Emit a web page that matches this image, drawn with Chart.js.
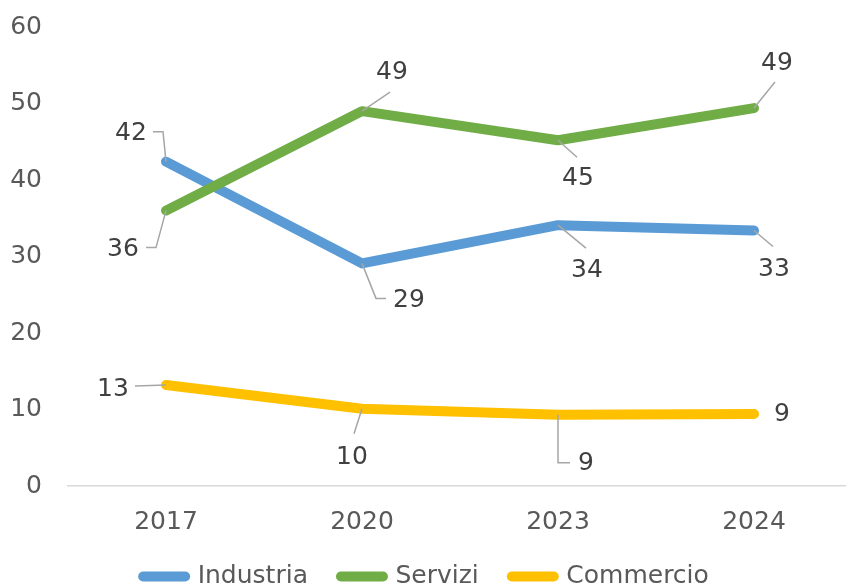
<!DOCTYPE html>
<html>
<head>
<meta charset="utf-8">
<script src="https://cdn.jsdelivr.net/npm/chart.js@4"></script>
<style>
    html, body { margin: 0; padding: 0; background: #fff; overflow: hidden; }
    #wrap { width: 846px; height: 585px; overflow: hidden; }
    #box { width: 860px; height: 599px; }
</style>
</head>
<body>
<div id="wrap"><div id="box"><canvas id="chart"></canvas></div></div>
<script>
var years = ["2017", "2020", "2023", "2024"];
var industria = [42.4, 29.1, 34.1, 33.4];
var servizi = [36.0, 49.0, 45.2, 49.4];
var commercio = [13.2, 10.1, 9.3, 9.4];
var yMin = 0, yMax = 60, yStep = 10;

// label placement: text centre offset from the point, leader bends (offsets from the point)
var labelsIndustria = [
    { at: [-35, -28], leader: [[-3, -30], [-13, -30]] },
    { at: [47, 37], leader: [[14, 35], [24, 35]] },
    { at: [29, 45], leader: [[28, 23]] },
    { at: [20, 39], leader: [[19, 16]] }
];
var labelsServizi = [
    { at: [-43, 39], leader: [[-10, 37], [-20, 37]] },
    { at: [30, -39], leader: [[28, -19]] },
    { at: [20, 38], leader: [[19, 17]] },
    { at: [23, -45], leader: [[21, -26]] }
];
var labelsCommercio = [
    { at: [-53, 4], leader: [[-31, 1]] },
    { at: [-10, 49], leader: [[-8, 25]] },
    { at: [28, 49], leader: [[0, 48], [12, 48]] },
    { at: [28, 0], leader: null }
];

var fontFamily = "'DejaVu Sans', sans-serif";

var leaderLabels = {
    id: "leaderLabels",
    afterDatasetsDraw: function (chart) {
        var ctx = chart.ctx;
        ctx.save();
        chart.data.datasets.forEach(function (ds, i) {
            var meta = chart.getDatasetMeta(i);
            meta.data.forEach(function (pt, j) {
                var cfg = ds.labelPos[j];
                if (cfg.leader) {
                    ctx.beginPath();
                    ctx.moveTo(pt.x, pt.y);
                    cfg.leader.forEach(function (p) {
                        ctx.lineTo(pt.x + p[0], pt.y + p[1]);
                    });
                    ctx.strokeStyle = "#a6a6a6";
                    ctx.lineWidth = 1.5;
                    ctx.stroke();
                }
                ctx.fillStyle = "#404040";
                ctx.font = "25px " + fontFamily;
                ctx.textAlign = "center";
                ctx.textBaseline = "middle";
                ctx.fillText(String(Math.round(ds.data[j])), pt.x + cfg.at[0], pt.y + cfg.at[1]);
            });
        });
        ctx.restore();
    }
};

function lineSet(label, data, color, order, labelPos) {
    return {
        label: label,
        data: data,
        borderColor: color,
        backgroundColor: color,
        borderWidth: 10,
        borderCapStyle: "round",
        borderJoinStyle: "round",
        pointRadius: 0,
        pointHoverRadius: 0,
        tension: 0,
        fill: false,
        order: order,
        labelPos: labelPos
    };
}

new Chart(document.getElementById("chart"), {
    type: "line",
    data: {
        labels: years,
        datasets: [
            lineSet("Industria", industria, "#5b9bd5", 1, labelsIndustria),
            lineSet("Servizi", servizi, "#70ad47", 0, labelsServizi),
            lineSet("Commercio", commercio, "#ffc000", 2, labelsCommercio)
        ]
    },
    options: {
        responsive: true,
        maintainAspectRatio: false,
        animation: false,
        devicePixelRatio: 1,
        layout: { padding: { top: 27, right: 8, left: 0, bottom: 0 } },
        plugins: {
            tooltip: { enabled: false },
            legend: {
                position: "bottom",
                labels: {
                    usePointStyle: true,
                    pointStyle: "line",
                    pointStyleWidth: 42,
                    padding: 33,
                    color: "#595959",
                    font: { family: fontFamily, size: 25 },
                    generateLabels: function (chart) {
                        var items = Chart.defaults.plugins.legend.labels.generateLabels(chart);
                        items.forEach(function (it) {
                            it.lineCap = "round";
                            it.lineWidth = 10;
                        });
                        return items;
                    },
                    sort: function (a, b) { return a.datasetIndex - b.datasetIndex; }
                }
            }
        },
        scales: {
            x: {
                offset: true,
                grid: { display: false, drawTicks: false },
                border: { display: true, color: "#d9d9d9", width: 1.5 },
                ticks: { color: "#595959", padding: 21, font: { family: fontFamily, size: 25 } },
                afterFit: function (scale) { scale.height = 45; }
            },
            y: {
                min: yMin,
                max: yMax,
                grid: { display: false, drawTicks: false },
                border: { display: false },
                ticks: { stepSize: yStep, color: "#595959", padding: 26, font: { family: fontFamily, size: 25 } },
                afterFit: function (scale) {
                    scale.width = 68;
                    scale.paddingTop = 0;
                    scale.paddingBottom = 0;
                }
            }
        }
    },
    plugins: [leaderLabels]
});
</script>
</body>
</html>
